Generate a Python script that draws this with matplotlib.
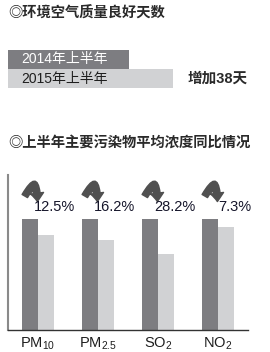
import matplotlib
matplotlib.use("Agg")
import matplotlib.pyplot as plt
from matplotlib.patches import FancyArrowPatch

plt.rcParams['font.family'] = ['Liberation Sans', 'Noto Sans CJK SC', 'DejaVu Sans']
plt.rcParams['mathtext.fontset'] = 'custom'
plt.rcParams['mathtext.rm'] = 'Liberation Sans'
plt.rcParams['mathtext.it'] = 'Liberation Sans'

# ---- data ----
title_top = "◎环境空气质量良好天数"
title_bottom = "◎上半年主要污染物平均浓度同比情况"
year_labels = ["2014年上半年", "2015年上半年"]
good_days = [104, 142]
increase_text = "增加38天"

pollutants = ["PM$_{10}$", "PM$_{2.5}$", "SO$_2$", "NO$_2$"]
conc_2014 = [100, 100, 100, 100]
conc_2015 = [86, 81, 69, 93]
pct_drop = ["12.5%", "16.2%", "28.2%", "7.3%"]

dark = "#7d7d81"
light = "#d1d2d4"
txt = "#1e1e1e"

W, H = 270, 352
fig = plt.figure(figsize=(W / 100, H / 100), dpi=100)

def px_axes(x0, y0, x1, y1):
    return fig.add_axes([x0 / W, 1 - y1 / H, (x1 - x0) / W, (y1 - y0) / H])

fig.text(8 / W, 1 - 14 / H, title_top, fontsize=10.3, fontweight='bold',
         color="#2a2a2a", ha='left', va='center')
fig.text(8 / W, 1 - 143 / H, title_bottom, fontsize=10.3, fontweight='bold',
         color="#2a2a2a", ha='left', va='center')

# ---- top horizontal bars ----
ax1 = px_axes(8, 50, 173, 88)
ax1.barh([1, 0], good_days, height=1.0, color=[dark, light], align='center')
ax1.set_xlim(0, max(good_days))
ax1.set_ylim(-0.5, 1.5)
ax1.axis('off')
ax1.text(13 / 165 * max(good_days), 1, year_labels[0], color='white',
         fontsize=10, ha='left', va='center')
ax1.text(13 / 165 * max(good_days), 0, year_labels[1], color=txt,
         fontsize=10, ha='left', va='center')
fig.text(188 / W, 1 - 79 / H, increase_text, fontsize=10.5, fontweight='bold',
         color="#2a2a2a", ha='left', va='center')

# ---- bottom grouped bars ----
ax2 = px_axes(8, 175, 248, 330)
n = len(pollutants)
xs = list(range(n))
bw = 0.26
ax2.bar([x - bw / 2 for x in xs], conc_2014, width=bw, color=dark)
ax2.bar([x + bw / 2 for x in xs], conc_2015, width=bw, color=light)
ax2.set_xlim(-0.5, n - 0.5)
ax2.set_ylim(0, 140)
for s in ['top', 'right']:
    ax2.spines[s].set_visible(False)
ax2.spines['left'].set_color('#8a8a8a')
ax2.spines['left'].set_linewidth(1.5)
ax2.spines['bottom'].set_color('#333333')
ax2.spines['bottom'].set_linewidth(1.0)
ax2.set_yticks([])
ax2.set_xticks(xs)
ax2.set_xticklabels(pollutants, fontsize=10.5, color=txt)
ax2.tick_params(axis='x', length=0, pad=4)

for i, p in enumerate(pct_drop):
    arr = FancyArrowPatch((i - 0.22, 121), (i - 0.01, 116),
                          connectionstyle="angle3,angleA=60,angleB=90",
                          arrowstyle="simple,head_width=9.5,head_length=6,tail_width=4.5",
                          color="#505050", mutation_scale=1, clip_on=False,
                          shrinkA=0, shrinkB=0)
    ax2.add_patch(arr)
    ax2.text(i + 0.28, 111, p, fontsize=10.5, color="#15152a",
             ha='center', va='center')

fig.savefig("out.png", dpi=100)
